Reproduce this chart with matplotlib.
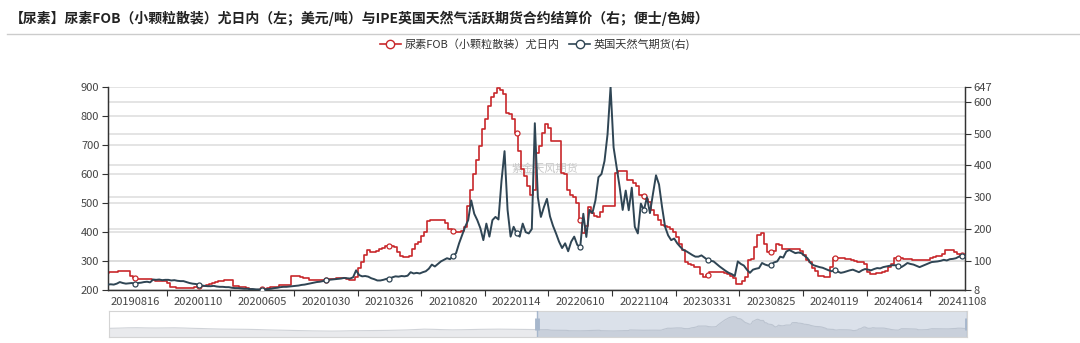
import numpy as np
import matplotlib.pyplot as plt
from matplotlib.lines import Line2D
from matplotlib.transforms import blended_transform_factory

plt.rcParams['font.family'] = ['Noto Sans CJK SC', 'DejaVu Sans']

# weekly points (Fridays), 2019-06-14 .. 2024-11-15
x_labels = ['20190816', '20200110', '20200605', '20201030', '20210326', '20210820', '20220114',
            '20220610', '20221104', '20230331', '20230825', '20240119', '20240614', '20241108']
label_idx = list(range(9, 284, 21))

# urea FOB, USD/t (left axis)
urea = [260, 261, 262, 263, 265, 267, 267, 265, 250, 240,
        237, 237, 237, 237, 237, 235, 232, 232, 232, 232,
        225, 211, 210, 208, 207, 207, 207, 207, 207, 210,
        214, 214, 214, 216, 221, 224, 227, 230, 232, 236,
        236, 236, 215, 213, 211, 211, 208, 204, 200, 200,
        201, 204, 204, 208, 211, 211, 211, 217, 217, 217,
        218, 250, 248, 248, 245, 242, 240, 236, 236, 236,
        236, 236, 236, 237, 238, 238, 240, 242, 240, 238,
        236, 236, 245, 275, 296, 320, 337, 332, 332, 335,
        342, 345, 351, 351, 351, 348, 330, 318, 314, 314,
        318, 340, 360, 366, 385, 400, 439, 440, 440, 440,
        442, 442, 430, 412, 405, 400, 400, 405, 418, 488,
        546, 600, 650, 697, 755, 790, 836, 865, 880, 897,
        890, 877, 810, 807, 790, 740, 679, 616, 592, 557,
        528, 546, 674, 697, 743, 772, 760, 714, 714, 714,
        604, 600, 546, 528, 522, 500, 440, 395, 420, 487,
        465, 455, 453, 470, 490, 490, 490, 490, 604, 610,
        610, 610, 581, 581, 570, 557, 528, 525, 515, 505,
        476, 459, 441, 424, 420, 418, 410, 400, 383, 360,
        337, 296, 290, 285, 279, 279, 256, 244, 252, 261,
        261, 261, 261, 261, 258, 255, 250, 240, 221, 221,
        230, 244, 302, 308, 348, 389, 395, 360, 331, 331,
        335, 360, 355, 343, 343, 343, 343, 343, 343, 335,
        319, 305, 296, 275, 265, 250, 247, 244, 244, 279,
        311, 312, 312, 310, 308, 306, 302, 300, 298, 296,
        290, 261, 256, 256, 258, 258, 262, 267, 280, 290,
        311, 310, 310, 308, 308, 306, 305, 304, 304, 303,
        302, 302, 310, 314, 318, 318, 325, 337, 337, 337,
        331, 325, 319, 315]

# UK natural gas futures, pence/therm (right axis)
gas = [25, 26, 25, 28, 33, 30, 28, 29, 30, 28,
       30, 31, 33, 34, 32, 41, 40, 41, 39, 40,
       40, 38, 39, 37, 36, 36, 33, 30, 28, 27,
       25, 22, 21, 20, 20, 21, 19, 18, 18, 17,
       17, 15, 14, 14, 13, 12, 12, 11, 11, 10,
       10, 9, 10, 11, 12, 14, 15, 17, 18, 18,
       19, 20, 21, 22, 24, 25, 27, 29, 31, 33,
       34, 36, 38, 40, 41, 42, 43, 44, 46, 45,
       44, 48, 70, 55, 51, 52, 50, 45, 42, 38,
       38, 40, 43, 44, 48, 51, 50, 52, 51, 53,
       64, 60, 62, 60, 64, 67, 75, 88, 82, 90,
       98, 103, 108, 105, 115, 124, 155, 181, 207, 228,
       290, 248, 228, 203, 165, 217, 176, 228, 238, 230,
       352, 445, 260, 176, 207, 186, 176, 217, 190, 186,
       200, 533, 300, 238, 269, 295, 240, 210, 186, 160,
       140, 155, 130, 160, 176, 150, 144, 248, 175, 260,
       250, 290, 363, 373, 414, 498, 647, 457, 394, 332,
       260, 321, 259, 330, 207, 186, 280, 259, 300, 250,
       311, 369, 340, 269, 207, 180, 165, 170, 155, 144,
       134, 130, 124, 118, 113, 113, 117, 110, 103, 100,
       98, 90, 82, 75, 68, 62, 58, 52, 98, 90,
       85, 72, 62, 72, 75, 77, 93, 88, 85, 88,
       95, 98, 113, 110, 129, 134, 129, 124, 126, 124,
       116, 108, 93, 86, 83, 80, 78, 74, 70, 67,
       70, 66, 62, 64, 67, 70, 72, 68, 64, 70,
       74, 72, 70, 74, 77, 76, 80, 82, 84, 86,
       86, 82, 80, 86, 93, 90, 88, 84, 80, 84,
       88, 92, 96, 97, 98, 100, 103, 101, 105, 106,
       108, 113, 115, 116]

# earlier urea history, only visible as the slider shadow
urea_early = [330, 340, 355, 360, 350, 345, 350, 355, 345, 330,
              320, 305, 295, 290, 285, 280, 270, 255, 245, 235,
              225, 215, 205, 200, 195, 200, 210, 215, 220, 225,
              230, 240, 250, 270, 290, 280, 265, 255, 260, 270,
              280, 285, 290, 285, 280, 275, 270]

left_ticks = [200, 300, 400, 500, 600, 700, 800, 900]
right_ticks = [8, 100, 200, 300, 400, 500, 600, 647]

title = '【尿素】尿素FOB（小颗粒散装）尤日内（左；美元/吨）与IPE英国天然气活跃期货合约结算价（右；便士/色姆）'
name_urea = '尿素FOB（小颗粒散装）尤日内'
name_gas = '英国天然气期货(右)'

RED = '#c8282b'
NAVY = '#2f4554'
GRID = '#dcdcdc'
AX = '#333333'

W, H = 1080, 343
fig = plt.figure(figsize=(W / 100, H / 100), dpi=100)
fig.patch.set_facecolor('white')

x = np.arange(len(urea))

ax = fig.add_axes([107.7 / W, 1 - 290 / H, 857.3 / W, 203 / H])
ax2 = ax.twinx()
ax.set_xlim(0, len(urea) - 1)
ax.set_ylim(200, 900)
ax2.set_ylim(8, 647)

# grid lines for both axes, kept below the data
ax.set_axisbelow(True)
ax.grid(axis='y', color=GRID, lw=1.1)
trans = blended_transform_factory(ax.transAxes, ax2.transData)
for v in right_ticks[1:-1]:
    ax.plot([0, 1], [v, v], transform=trans, color=GRID, lw=1.1, zorder=0.5)

ax.text(0.51, 0.6, '紫金天风期货', transform=ax.transAxes, fontsize=8,
        color='#c8c8c8', ha='center', va='center', zorder=0.6)

# urea price moves in steps, so draw it as a stair line
ax.plot(x, urea, color=RED, lw=1.2, drawstyle='steps-mid', marker='o', markersize=3.6,
        markerfacecolor='white', markeredgewidth=0.9, markevery=label_idx, zorder=3)
ax2.plot(x, gas, color=NAVY, lw=1.4, marker='o', markersize=3.6,
         markerfacecolor='white', markeredgewidth=0.9, markevery=label_idx, zorder=3)

ax.set_yticks(left_ticks)
ax2.set_yticks(right_ticks)
ax.set_xticks(label_idx, x_labels)
ax.set_xticks([i + 10.5 for i in label_idx[:-1]], minor=True)

for a in (ax, ax2):
    a.spines['top'].set_visible(False)
    for s in ('left', 'right', 'bottom'):
        a.spines[s].set_color(AX)
        a.spines[s].set_linewidth(0.9)
    a.tick_params(axis='y', length=4, width=0.8, color=AX, labelsize=8,
                  labelcolor='#444444', pad=2)
ax.tick_params(axis='x', which='major', length=0, labelsize=8, labelcolor='#444444', pad=5)
ax.tick_params(axis='x', which='minor', length=4, width=0.8, color=AX)

# title, separator, legend
fig.text(10 / W, 1 - 18 / H, title, fontsize=10, fontweight='bold',
         color='#222222', va='center', ha='left')
fig.add_artist(Line2D([7 / W, 1.0], [1 - 34 / H] * 2, color='#cccccc', lw=1))
handles = [Line2D([], [], color=RED, lw=1.2, marker='o', markersize=6,
                  markerfacecolor='white', markeredgewidth=1),
           Line2D([], [], color=NAVY, lw=1.2, marker='o', markersize=6,
                  markerfacecolor='white', markeredgewidth=1)]
fig.legend(handles, [name_urea, name_gas], loc='center', bbox_to_anchor=(535 / W, 1 - 44 / H),
           ncol=2, frameon=False, fontsize=8, handlelength=1.9, handletextpad=0.3,
           columnspacing=0.9, labelcolor='#333333')

# data-zoom slider
sl = fig.add_axes([109.3 / W, 1 - 336.7 / H, 857.4 / W, 25.7 / H])
n_early = len(urea_early)
xe = np.linspace(-282, -1, n_early)
xs = np.concatenate([xe, x])
ys = np.concatenate([urea_early, urea])
sl.set_xlim(-282, len(urea) - 1)
sl.set_ylim(-78, 1175)
sl.axvspan(0, len(urea) - 1, color='#dbe1ea', zorder=0, lw=0)
left_part = xs <= 0
sl.fill_between(xs[left_part], ys[left_part], -78, color='#e9eaed', lw=0, zorder=1)
sl.plot(xs[left_part], ys[left_part], color='#d0d3d8', lw=0.8, zorder=2)
sl.fill_between(x, urea, -78, color='#c9d0db', lw=0, zorder=1)
sl.plot(x, urea, color='#bcc4d0', lw=0.8, zorder=2)
tx = sl.get_xaxis_transform()
for hx in (0, len(urea) - 1):
    sl.plot([hx, hx], [0, 1], transform=tx, color='#a7b7cc', lw=1, zorder=3)
    sl.plot([hx, hx], [0.27, 0.73], transform=tx, color='#a7b7cc', lw=3.5,
            solid_capstyle='butt', zorder=4)
sl.set_xticks([])
sl.set_yticks([])
for s in sl.spines.values():
    s.set_color('#d4d4d4')
    s.set_linewidth(0.8)

fig.savefig('out.png', dpi=100, facecolor='white')
